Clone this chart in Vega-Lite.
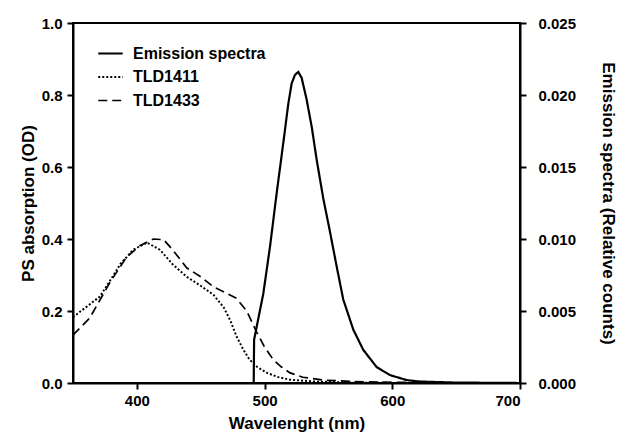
{
  "$schema": "https://vega.github.io/schema/vega-lite/v6.json",
  "width": 447,
  "height": 360,
  "autosize": "none",
  "padding": {"left": 73, "top": 23, "right": 98, "bottom": 54},
  "background": "white",
  "config": {
    "view": {"stroke": "black", "strokeWidth": 2},
    "font": "Liberation Sans",
    "axis": {
      "domainColor": "black", "domainWidth": 2, "tickColor": "black", "tickWidth": 2, "tickSize": 6,
      "labelFont": "Liberation Sans", "labelFontWeight": "bold", "labelFontSize": 15, "labelColor": "black",
      "titleFont": "Liberation Sans", "titleFontWeight": "bold", "titleFontSize": 17, "titleColor": "black",
      "grid": false
    }
  },
  "datasets": {
    "abs": [
      {"wl": 350, "value": 0.183, "series": "TLD1411"},
      {"wl": 360, "value": 0.21, "series": "TLD1411"},
      {"wl": 371, "value": 0.24, "series": "TLD1411"},
      {"wl": 380, "value": 0.29, "series": "TLD1411"},
      {"wl": 387, "value": 0.33, "series": "TLD1411"},
      {"wl": 397, "value": 0.37, "series": "TLD1411"},
      {"wl": 408, "value": 0.39, "series": "TLD1411"},
      {"wl": 418, "value": 0.37, "series": "TLD1411"},
      {"wl": 428, "value": 0.33, "series": "TLD1411"},
      {"wl": 439, "value": 0.295, "series": "TLD1411"},
      {"wl": 450, "value": 0.27, "series": "TLD1411"},
      {"wl": 460, "value": 0.245, "series": "TLD1411"},
      {"wl": 468, "value": 0.21, "series": "TLD1411"},
      {"wl": 473, "value": 0.175, "series": "TLD1411"},
      {"wl": 478, "value": 0.13, "series": "TLD1411"},
      {"wl": 483, "value": 0.095, "series": "TLD1411"},
      {"wl": 488, "value": 0.066, "series": "TLD1411"},
      {"wl": 494, "value": 0.045, "series": "TLD1411"},
      {"wl": 502, "value": 0.028, "series": "TLD1411"},
      {"wl": 510, "value": 0.017, "series": "TLD1411"},
      {"wl": 520, "value": 0.009, "series": "TLD1411"},
      {"wl": 540, "value": 0.004, "series": "TLD1411"},
      {"wl": 570, "value": 0.001, "series": "TLD1411"},
      {"wl": 620, "value": 0.0, "series": "TLD1411"},
      {"wl": 700, "value": 0.0, "series": "TLD1411"},
      {"wl": 350, "value": 0.133, "series": "TLD1433"},
      {"wl": 363, "value": 0.18, "series": "TLD1433"},
      {"wl": 379, "value": 0.28, "series": "TLD1433"},
      {"wl": 392, "value": 0.35, "series": "TLD1433"},
      {"wl": 403, "value": 0.383, "series": "TLD1433"},
      {"wl": 413, "value": 0.4, "series": "TLD1433"},
      {"wl": 421, "value": 0.398, "series": "TLD1433"},
      {"wl": 428, "value": 0.37, "series": "TLD1433"},
      {"wl": 439, "value": 0.32, "series": "TLD1433"},
      {"wl": 450, "value": 0.295, "series": "TLD1433"},
      {"wl": 460, "value": 0.267, "series": "TLD1433"},
      {"wl": 470, "value": 0.25, "series": "TLD1433"},
      {"wl": 478, "value": 0.235, "series": "TLD1433"},
      {"wl": 486, "value": 0.2, "series": "TLD1433"},
      {"wl": 494, "value": 0.14, "series": "TLD1433"},
      {"wl": 500, "value": 0.1, "series": "TLD1433"},
      {"wl": 507, "value": 0.064, "series": "TLD1433"},
      {"wl": 513, "value": 0.045, "series": "TLD1433"},
      {"wl": 520, "value": 0.028, "series": "TLD1433"},
      {"wl": 530, "value": 0.016, "series": "TLD1433"},
      {"wl": 546, "value": 0.008, "series": "TLD1433"},
      {"wl": 570, "value": 0.004, "series": "TLD1433"},
      {"wl": 600, "value": 0.002, "series": "TLD1433"},
      {"wl": 650, "value": 0.0, "series": "TLD1433"},
      {"wl": 700, "value": 0.0, "series": "TLD1433"}
    ],
    "em": [
      {"wl": 478, "value": 0.0, "series": "Emission spectra"},
      {"wl": 491.5, "value": 0.0, "series": "Emission spectra"},
      {"wl": 491.8, "value": 0.003, "series": "Emission spectra"},
      {"wl": 493.8, "value": 0.0039, "series": "Emission spectra"},
      {"wl": 499, "value": 0.0062, "series": "Emission spectra"},
      {"wl": 504.3, "value": 0.0095, "series": "Emission spectra"},
      {"wl": 509.5, "value": 0.0132, "series": "Emission spectra"},
      {"wl": 514.7, "value": 0.0167, "series": "Emission spectra"},
      {"wl": 518.6, "value": 0.0194, "series": "Emission spectra"},
      {"wl": 521.2, "value": 0.0208, "series": "Emission spectra"},
      {"wl": 523.8, "value": 0.0214, "series": "Emission spectra"},
      {"wl": 526.4, "value": 0.0216, "series": "Emission spectra"},
      {"wl": 529, "value": 0.0212, "series": "Emission spectra"},
      {"wl": 532.9, "value": 0.0197, "series": "Emission spectra"},
      {"wl": 536.9, "value": 0.0178, "series": "Emission spectra"},
      {"wl": 540.8, "value": 0.0155, "series": "Emission spectra"},
      {"wl": 546, "value": 0.0128, "series": "Emission spectra"},
      {"wl": 551, "value": 0.0106, "series": "Emission spectra"},
      {"wl": 556, "value": 0.0083, "series": "Emission spectra"},
      {"wl": 561.6, "value": 0.0058, "series": "Emission spectra"},
      {"wl": 569.5, "value": 0.0037, "series": "Emission spectra"},
      {"wl": 577.3, "value": 0.0023, "series": "Emission spectra"},
      {"wl": 587.8, "value": 0.0011, "series": "Emission spectra"},
      {"wl": 598.2, "value": 0.00055, "series": "Emission spectra"},
      {"wl": 611.3, "value": 0.0002, "series": "Emission spectra"},
      {"wl": 621.7, "value": 0.0001, "series": "Emission spectra"},
      {"wl": 650, "value": 0.00003, "series": "Emission spectra"},
      {"wl": 700, "value": 0.0, "series": "Emission spectra"}
    ]
  },
  "encoding": {
    "x": {
      "field": "wl", "type": "quantitative",
      "scale": {"domain": [350, 700], "nice": false, "zero": false},
      "axis": {"values": [400, 500, 600, 700], "title": "Wavelenght (nm)", "labelPadding": 4, "titlePadding": 7}
    },
    "strokeDash": {
      "field": "series", "type": "nominal",
      "scale": {"domain": ["Emission spectra", "TLD1411", "TLD1433"], "range": [[1, 0], [2, 2], [9, 5]]},
      "legend": {
        "title": null, "orient": "none", "legendX": 24, "legendY": 17,
        "symbolType": "stroke", "symbolSize": 600, "symbolStrokeWidth": 2.5, "symbolStrokeColor": "black",
        "labelFont": "Liberation Sans", "labelFontSize": 16, "labelFontWeight": "bold", "labelColor": "black",
        "rowPadding": 1.5, "labelOffset": 9
      }
    },
    "strokeWidth": {
      "field": "series", "type": "nominal",
      "scale": {"domain": ["Emission spectra", "TLD1411", "TLD1433"], "range": [2.2, 1.7, 2.6]},
      "legend": null
    }
  },
  "layer": [
    {
      "data": {"name": "abs"},
      "mark": {"type": "line", "color": "black"},
      "encoding": {
        "y": {
          "field": "value", "type": "quantitative",
          "scale": {"domain": [0, 1], "nice": false},
          "axis": {"orient": "left", "values": [0, 0.2, 0.4, 0.6, 0.8, 1.0], "format": ".1f", "title": "PS absorption (OD)", "labelPadding": 5, "titlePadding": 4}
        }
      }
    },
    {
      "data": {"name": "em"},
      "mark": {"type": "line", "color": "black"},
      "encoding": {
        "y": {
          "field": "value", "type": "quantitative",
          "scale": {"domain": [0, 0.025], "nice": false},
          "axis": {"orient": "right", "values": [0, 0.005, 0.01, 0.015, 0.02, 0.025], "format": ".3f", "title": "Emission spectra (Relative counts)", "labelPadding": 12, "titlePadding": 23}
        }
      }
    }
  ],
  "resolve": {"scale": {"y": "independent"}}
}
